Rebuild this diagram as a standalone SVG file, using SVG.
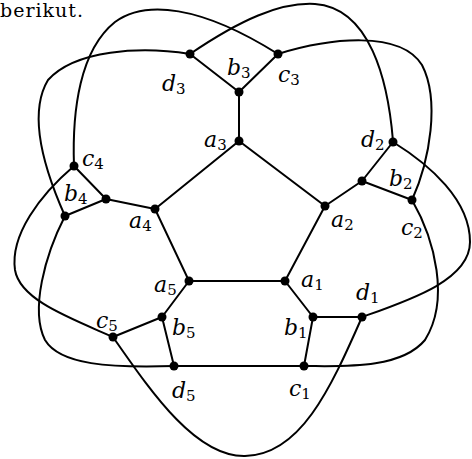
<svg xmlns="http://www.w3.org/2000/svg" width="472" height="459" viewBox="0 0 472 459">
<style>
.e{fill:none;stroke:#000;stroke-width:2}
.n{fill:#000}
.l{font-family:"DejaVu Serif","Liberation Serif",serif;font-style:italic;font-size:22px;fill:#000}
.s{font-style:normal;font-size:15px}
.t{font-family:"DejaVu Serif","Liberation Serif",serif;font-size:19px;fill:#000}
</style>
<rect width="472" height="459" fill="#fff"/>
<text class="t" x="0" y="17" textLength="83" lengthAdjust="spacing">berikut.</text>
<g id="connectors">
<path class="e" d="M285,281 L325,206 L239,141 L155,209 L189,281 Z"/>
<path class="e" d="M285,281 L313,317 M313,317 L304,366 M313,317 L362,317"/>
<path class="e" d="M325,206 L362,181 M362,181 L412,200 M362,181 L393,142"/>
<path class="e" d="M239,141 L239,92 M239,92 L278,54 M239,92 L190,54"/>
<path class="e" d="M155,209 L106,199 M106,199 L74,166 M106,199 L65,216"/>
<path class="e" d="M189,281 L162,317 M162,317 L113,337 M162,317 L174,366"/>
<path class="e" d="M174,366 L304,366"/>
<path class="e" d="M190,54 C140,46 75,50 48,80 C30,110 40,160 65,216"/>
<path class="e" d="M65,216 C45,255 30,310 45,340 C60,365 110,368 174,366"/>
<path class="e" d="M74,166 C40,195 10,235 15,270 C20,300 70,318 113,337"/>
<path class="e" d="M74,166 C72,110 80,50 115,22 C145,0 200,5 278,54"/>
<path class="e" d="M190,54 C240,20 280,2 315,4 C370,8 388,80 393,141"/>
<path class="e" d="M278,54 C330,38 400,30 422,65 C440,100 430,160 412,200"/>
<path class="e" d="M393,142 C430,165 470,200 470,242 C470,280 410,300 362,317"/>
<path class="e" d="M412,200 C435,240 450,300 425,340 C400,370 340,366 304,366"/>
<path class="e" d="M362,317 C330,390 300,455 245,456 C195,457 150,390 113,337"/>
</g>
<g id="a1"><circle class="n" cx="285" cy="281" r="4.5"/><text class="l" x="301" y="287">a<tspan class="s" dy="3">1</tspan></text></g>
<g id="a2"><circle class="n" cx="325" cy="206" r="4.5"/><text class="l" x="331" y="227">a<tspan class="s" dy="3">2</tspan></text></g>
<g id="a3"><circle class="n" cx="239" cy="141" r="4.5"/><text class="l" x="204" y="147">a<tspan class="s" dy="3">3</tspan></text></g>
<g id="a4"><circle class="n" cx="155" cy="209" r="4.5"/><text class="l" x="129" y="228">a<tspan class="s" dy="3">4</tspan></text></g>
<g id="a5"><circle class="n" cx="189" cy="281" r="4.5"/><text class="l" x="154" y="292">a<tspan class="s" dy="3">5</tspan></text></g>
<g id="b1"><circle class="n" cx="313" cy="317" r="4.5"/><text class="l" x="284" y="335">b<tspan class="s" dy="3">1</tspan></text></g>
<g id="b2"><circle class="n" cx="362" cy="181" r="4.5"/><text class="l" x="389" y="186">b<tspan class="s" dy="3">2</tspan></text></g>
<g id="b3"><circle class="n" cx="239" cy="92" r="4.5"/><text class="l" x="227" y="75">b<tspan class="s" dy="3">3</tspan></text></g>
<g id="b4"><circle class="n" cx="106" cy="199" r="4.5"/><text class="l" x="64" y="201">b<tspan class="s" dy="3">4</tspan></text></g>
<g id="b5"><circle class="n" cx="162" cy="317" r="4.5"/><text class="l" x="172" y="335">b<tspan class="s" dy="3">5</tspan></text></g>
<g id="c1"><circle class="n" cx="304" cy="366" r="4.5"/><text class="l" x="289" y="396">c<tspan class="s" dy="3">1</tspan></text></g>
<g id="c2"><circle class="n" cx="412" cy="200" r="4.5"/><text class="l" x="401" y="235">c<tspan class="s" dy="3">2</tspan></text></g>
<g id="c3"><circle class="n" cx="278" cy="54" r="4.5"/><text class="l" x="278" y="82">c<tspan class="s" dy="3">3</tspan></text></g>
<g id="c4"><circle class="n" cx="74" cy="166" r="4.5"/><text class="l" x="82" y="166">c<tspan class="s" dy="3">4</tspan></text></g>
<g id="c5"><circle class="n" cx="113" cy="337" r="4.5"/><text class="l" x="96" y="328">c<tspan class="s" dy="3">5</tspan></text></g>
<g id="d1"><circle class="n" cx="362" cy="317" r="4.5"/><text class="l" x="356" y="300">d<tspan class="s" dy="3">1</tspan></text></g>
<g id="d2"><circle class="n" cx="393" cy="142" r="4.5"/><text class="l" x="361" y="147">d<tspan class="s" dy="3">2</tspan></text></g>
<g id="d3"><circle class="n" cx="190" cy="54" r="4.5"/><text class="l" x="162" y="91">d<tspan class="s" dy="3">3</tspan></text></g>
<g id="d4"><circle class="n" cx="65" cy="216" r="4.5"/></g>
<g id="d5"><circle class="n" cx="174" cy="366" r="4.5"/><text class="l" x="172" y="398">d<tspan class="s" dy="3">5</tspan></text></g>
</svg>
